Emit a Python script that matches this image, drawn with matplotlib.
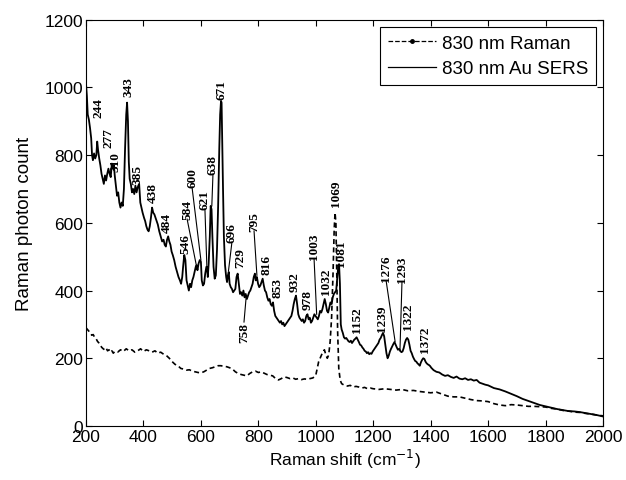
import matplotlib
matplotlib.use("Agg")
import matplotlib.pyplot as plt
from matplotlib.lines import Line2D

# SERS spectrum (solid)
sers_shift = [200, 203, 206, 210, 214, 218, 221, 224, 228, 232, 236, 239, 242, 246, 250, 254, 258, 262,
              266, 270, 274, 278, 282, 286, 290, 294, 297, 300, 304, 308, 312, 316, 320, 324, 328, 332,
              336, 340, 343, 346, 349, 352, 356, 360, 364, 368, 372, 376, 380, 385, 389, 393, 397, 402,
              406, 410, 414, 418, 422, 426, 430, 434, 438, 442, 446, 450, 455, 460, 465, 470, 474, 478,
              482, 486, 490, 494, 498, 502, 507, 512, 517, 522, 527, 531, 535, 538, 542, 546, 550, 554,
              558, 562, 566, 570, 574, 578, 582, 585, 588, 592, 596, 600, 603, 607, 611, 615, 619, 621,
              624, 627, 631, 634, 637, 640, 644, 648, 652, 656, 660, 664, 667, 670, 672, 674, 677, 680,
              684, 688, 691, 694, 697, 700, 704, 708, 712, 716, 720, 724, 728, 732, 736, 740, 744, 748,
              752, 756, 760, 764, 768, 772, 776, 780, 784, 788, 791, 795, 799, 803, 807, 811, 815, 819,
              823, 827, 831, 835, 839, 843, 847, 851, 855, 859, 863, 867, 871, 875, 879, 883, 887, 891,
              895, 899, 903, 907, 911, 915, 919, 923, 927, 931, 935, 939, 943, 947, 951, 955, 959, 963,
              967, 971, 975, 979, 983, 987, 991, 995, 999, 1003, 1007, 1011, 1015, 1019, 1023, 1027,
              1031, 1035, 1039, 1043, 1047, 1051, 1055, 1059, 1063, 1067, 1071, 1075, 1078, 1081, 1084,
              1087, 1090, 1094, 1098, 1102, 1106, 1110, 1114, 1118, 1122, 1126, 1130, 1134, 1138, 1142,
              1146, 1150, 1154, 1158, 1162, 1166, 1170, 1174, 1178, 1182, 1186, 1190, 1194, 1198, 1202,
              1206, 1210, 1214, 1218, 1222, 1226, 1230, 1234, 1238, 1242, 1246, 1250, 1254, 1258, 1262,
              1266, 1270, 1274, 1278, 1282, 1286, 1290, 1294, 1298, 1302, 1306, 1310, 1314, 1318, 1322,
              1326, 1330, 1334, 1338, 1342, 1346, 1350, 1354, 1358, 1362, 1366, 1370, 1374, 1378, 1382,
              1386, 1390, 1394, 1398, 1402, 1410, 1420, 1430, 1440, 1450, 1460, 1470, 1480, 1490, 1500,
              1510, 1520, 1530, 1540, 1550, 1560, 1570, 1580, 1590, 1600, 1620, 1640, 1660, 1680, 1700,
              1720, 1740, 1760, 1780, 1800, 1820, 1840, 1860, 1880, 1900, 1920, 1940, 1960, 1980, 2000]
sers_counts = [1010, 975, 920, 905, 880, 850, 800, 785, 805, 790, 800, 840, 815, 790, 770, 745, 730, 715,
               740, 725, 745, 760, 745, 735, 775, 760, 770, 740, 710, 680, 690, 660, 645, 660, 650, 700,
               820, 920, 955, 900, 780, 730, 715, 690, 700, 685, 710, 690, 705, 715, 660, 645, 630, 615,
               605, 590, 580, 575, 590, 615, 645, 630, 625, 615, 605, 595, 575, 560, 545, 550, 535, 530,
               550, 560, 545, 535, 515, 505, 490, 470, 455, 440, 430, 420, 440, 470, 505, 490, 430, 415,
               400, 420, 410, 430, 440, 455, 470, 475, 460, 480, 490, 485, 430, 415, 420, 450, 470, 470,
               440, 480, 560, 650, 640, 560, 470, 435, 445, 520, 650, 820, 920, 960, 955, 850, 700, 560,
               475, 440, 425, 445, 455, 420, 410, 405, 395, 400, 405, 440, 450, 420, 390, 395, 385, 400,
               380, 390, 375, 385, 395, 400, 410, 420, 440, 450, 430, 440, 420, 410, 415, 425, 435, 415,
               400, 395, 380, 370, 375, 360, 355, 365, 340, 325, 320, 315, 310, 305, 310, 300, 305, 295,
               300, 305, 310, 315, 320, 325, 340, 360, 375, 385, 360, 330, 320, 315, 310, 315, 305, 310,
               325, 330, 315, 320, 305, 310, 320, 330, 325, 320, 315, 325, 340, 335, 345, 360,
               375, 360, 340, 335, 350, 365, 360, 380, 390, 395, 400, 440, 470, 478, 420,
               300, 285, 275, 262, 258, 260, 255, 250, 248, 252, 245, 250, 255, 258, 262,
               255, 248, 240, 238, 232, 228, 222, 220, 215, 218, 212, 215, 213, 220, 225,
               230, 235, 240, 245, 255, 260, 268, 275, 265, 240, 215, 200, 208, 220, 228,
               235, 242, 248, 240, 232, 225, 228, 222, 218, 220, 230, 245, 255, 260, 255,
               240, 222, 215, 205, 198, 192, 190, 185, 182, 178, 188, 195, 200, 198, 190,
               185, 182, 180, 177, 172, 165, 160, 158, 152, 148, 150, 145, 142, 146, 140,
               138, 141, 136, 138, 134, 136, 128, 125, 122, 120, 112, 108, 102, 95, 88,
               80, 74, 68, 62, 58, 54, 50, 47, 44, 43, 41, 38, 35, 32, 28]

# normal Raman spectrum (dashed)
raman_shift = [200, 205, 210, 215, 220, 225, 230, 235, 240, 245, 250, 255, 260, 265, 270, 275, 280, 285,
               290, 295, 300, 310, 320, 330, 340, 350, 360, 370, 380, 390, 400, 410, 420, 430, 440, 450,
               460, 470, 480, 490, 500, 510, 520, 530, 540, 550, 560, 570, 580, 590, 600, 610, 620, 630,
               640, 650, 660, 670, 680, 690, 700, 710, 720, 730, 740, 750, 760, 770, 780, 790, 800, 810,
               820, 830, 840, 850, 860, 870, 880, 890, 900, 910, 920, 930, 940, 950, 960, 970, 980, 990,
               1000, 1005, 1010, 1015, 1020, 1025, 1030, 1035, 1040, 1045, 1050, 1055, 1060, 1064, 1067,
               1070, 1073, 1076, 1080, 1085, 1090, 1100, 1110, 1120, 1130, 1140, 1150, 1160, 1170, 1180,
               1190, 1200, 1220, 1240, 1260, 1280, 1300, 1320, 1340, 1360, 1380, 1400, 1420, 1440, 1460,
               1480, 1500, 1520, 1540, 1560, 1580, 1600, 1620, 1640, 1660, 1680, 1700, 1720, 1740, 1760,
               1780, 1800, 1820, 1840, 1860, 1880, 1900, 1920, 1940, 1960, 1980, 2000]
raman_counts = [290, 285, 280, 275, 268, 270, 262, 258, 250, 245, 238, 232, 228, 225, 230, 222, 225, 218,
                222, 215, 220, 218, 225, 220, 228, 222, 225, 218, 222, 228, 220, 225, 222, 218, 222, 215,
                218, 212, 208, 200, 190, 182, 178, 170, 168, 165, 166, 162, 160, 158, 157, 160, 165, 170,
                172, 175, 178, 178, 176, 175, 172, 168, 160, 155, 152, 150, 148, 155, 160, 162, 158, 160,
                156, 152, 150, 148, 140, 136, 140, 145, 143, 140, 142, 138, 140, 137, 139, 138, 140, 142,
                150, 170, 190, 200, 210, 220, 225, 210, 200, 210, 250, 320, 450, 580, 630,
                600, 450, 280, 170, 135, 125, 120, 118, 120, 115, 117, 115, 112, 114, 110,
                112, 110, 108, 110, 108, 106, 108, 104, 105, 102, 100, 98, 100, 94, 88,
                86, 86, 82, 78, 75, 74, 72, 66, 62, 60, 63, 62, 60, 58, 58,
                57, 56, 52, 50, 46, 44, 41, 40, 37, 35, 32, 30]

# peak labels
peak_names = ["244", "277", "310", "343", "385", "438", "484", "546", "584", "600", "621", "638",
              "671", "696", "729", "758", "795", "816", "853", "932", "978", "1003", "1032", "1069",
              "1081", "1152", "1239", "1276", "1293", "1322", "1372"]
label_x = [242, 277, 301, 346, 378, 433, 482, 545, 552, 569, 614, 642,
           673, 708, 736, 750, 785, 827, 865, 928, 970, 994, 1036, 1070,
           1088, 1144, 1231, 1245, 1300, 1321, 1380]
label_y = [912, 824, 753, 975, 715, 662, 573, 511, 611, 706, 641, 744,
           966, 543, 470, 307, 576, 449, 381, 399, 346, 493, 390, 650,
           472, 278, 281, 428, 425, 286, 219]
# leader lines: label -> peak point
leaders = {"584": (584, 475), "600": (600, 490), "621": (621, 465), "638": (638, 650),
           "696": (696, 458), "758": (758, 385), "795": (795, 445), "1003": (1003, 330),
           "1276": (1276, 250), "1293": (1293, 222)}

plt.rcParams['font.family'] = ['Liberation Sans', 'DejaVu Sans']

fig = plt.figure(figsize=(6.26, 4.81), dpi=100)
ax = fig.add_axes([0.1374, 0.1123, 0.8259, 0.8447])

ax.plot(raman_shift, raman_counts, color='black', lw=1.2, ls=(0, (3, 2)))
ax.plot(sers_shift, sers_counts, color='black', lw=1.3)

for name, x, y in zip(peak_names, label_x, label_y):
    va = 'top' if name == "758" else 'bottom'
    ax.text(x, y, name, rotation=90, ha='center', va=va, fontsize=9.5,
            family='Liberation Serif', fontweight='bold')
    if name in leaders:
        px, py = leaders[name]
        ax.plot([x, px], [y, py], color='black', lw=0.8)

ax.set_xlim(200, 2000)
ax.set_ylim(0, 1200)
ax.set_xticks(range(200, 2001, 200))
ax.set_yticks(range(0, 1201, 200))
ax.tick_params(direction='in', length=4, width=0.8, top=True, right=True, labelsize=12.5, pad=2)
for s in ax.spines.values():
    s.set_linewidth(0.8)

ax.set_xlabel('Raman shift (cm$^{-1}$)', fontsize=12.5, labelpad=2)
ax.set_ylabel('Raman photon count', fontsize=13.5, labelpad=8)

handles = [Line2D([0, 1, 2], [0, 0, 0], color='black', lw=0.9, ls='--', marker='.',
                  markersize=5, markevery=[1]),
           Line2D([], [], color='black', lw=0.9)]
leg = ax.legend(handles, ['830 nm Raman', '830 nm Au SERS'], loc='upper right',
                bbox_to_anchor=(0.986, 0.982), borderaxespad=0, fancybox=False,
                edgecolor='black', framealpha=1, fontsize=13.5, handlelength=2.6,
                handletextpad=0.3, labelspacing=0.45, borderpad=0.4)
leg.get_frame().set_linewidth(0.8)

fig.savefig('out.png', dpi=100)
